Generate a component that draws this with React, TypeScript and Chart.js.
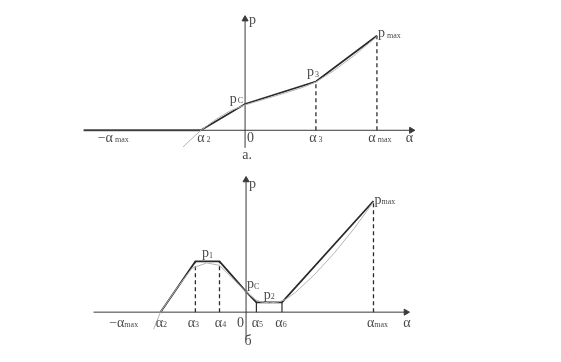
import React, { useEffect, useRef } from "react";
import { Chart, registerables } from "chart.js";

Chart.register(...registerables);

// ---------- Panel "а" (top) ----------
// breakpoints of the piecewise characteristic: α2, 0, α3, αmax
const topAlpha = [-4.5, 0, 7.2, 13.4];
// values p: 0, pC, p3, pmax
const topP = [0, 2.7, 5.0, 9.7];
// dead zone on the negative side (thick flat part)
const topDeadX = [-16.4, -4.5];
// axes extents
const topAxisX = [-16.4, 16.9];
const topAxisY = [-1.8, 11.4];
// thin grey approximating curve
const topApproxX = [-6.3, -4.5, -3, -1.5, 0, 2, 4, 6, 7.2, 9, 11, 13.4];
const topApproxP = [-1.7, 0, 1.1, 2.0, 2.6, 3.2, 3.8, 4.45, 4.95, 6.1, 7.6, 9.6];
// tick labels
const topTickMain = ["−α", "α", "0", "α", "α"];
const topTickSub = ["max", "2", "", "3", "max"];

// ---------- Panel "б" (bottom) ----------
// α2, α3, α4, 0, α5, α6, αmax
const botAlpha = [-8.7, -5.15, -2.7, 0, 1.05, 3.65, 12.95];
// 0, p1, p1, pC, p2, p2, pmax
const botP = [0, 5.2, 5.2, 2.1, 1.0, 1.0, 11.4];
const botAxisX = [-15.5, 16.25];
const botAxisY = [-2.85, 13.55];
const botApproxX = [-9.4, -8.7, -7, -5.5, -4, -2.7, -1.5, 0, 1, 1.5, 2.4, 3.3, 4, 5, 7, 9, 11, 12.95];
const botApproxP = [-1.75, 0, 2.5, 4.5, 5.05, 4.8, 3.6, 2.1, 1.25, 1.05, 0.95, 1.05, 1.3, 2.0, 3.9, 6.1, 8.6, 11.3];
const botTickMain = ["−α", "α", "α", "α", "0", "α", "α", "α"];
const botTickSub = ["max", "2", "3", "4", "", "5", "6", "max"];

// ---------- layout (pixels) ----------
const W = 561;
const H = 362;
const PX = 10; // pixels per unit
const TOP_ORIGIN = { x: 244.5, y: 129 };
const BOT_ORIGIN = { x: 245.5, y: 315.5 };

const INK = "#2a2a2a";
const AXIS = "#3a3a3a";
const GREY = "#b4b4b4";
const TEXT = "#4a4a4a";
const SERIF = "'Liberation Serif', 'DejaVu Serif', serif";

const pts = (xs: number[], ys: number[]) => xs.map((x, i) => ({ x, y: ys[i] }));

type Lbl = {
  panel: "t" | "b";
  x: number;
  y: number;
  main: string;
  sub: string;
  dx: number;
  dy: number;
  align: "center" | "left" | "right";
  size?: number;
  gap?: number;
};

function buildLabels(): Lbl[] {
  const L: Lbl[] = [];
  // top tick labels
  const topTickX = [-topAlpha[3], topAlpha[0], 0, topAlpha[2], topAlpha[3]];
  const topDx = [0, 3, 2, 0, 3];
  topTickX.forEach((x, i) =>
    L.push({ panel: "t", x, y: 0, main: topTickMain[i], sub: topTickSub[i], dx: topDx[i], dy: 8, align: i === 2 ? "left" : "center", gap: 2 })
  );
  L.push({ panel: "t", x: topAxisX[1], y: 0, main: "α", sub: "", dx: -2, dy: 8, align: "center" });
  L.push({ panel: "t", x: 0, y: 0, main: "a.", sub: "", dx: 2, dy: 25, align: "center" });
  L.push({ panel: "t", x: 0, y: topAxisY[1], main: "p", sub: "", dx: 4, dy: 1, align: "left" });
  L.push({ panel: "t", x: topAlpha[1], y: topP[1], main: "p", sub: "C", dx: -2, dy: -5, align: "right", gap: 1 });
  L.push({ panel: "t", x: topAlpha[2], y: topP[2], main: "p", sub: "3", dx: -3, dy: -9, align: "center", gap: 1 });
  L.push({ panel: "t", x: topAlpha[3], y: topP[3], main: "p", sub: "max", dx: 1, dy: -2, align: "left", gap: 2 });

  // bottom tick labels
  const botTickX = [-botAlpha[6], botAlpha[0], botAlpha[1], botAlpha[2], 0, botAlpha[4], botAlpha[5], botAlpha[6]];
  const botDx = [5, 1, -2, 1, -2, 1, -1, 4];
  botTickX.forEach((x, i) =>
    L.push({ panel: "b", x, y: 0, main: botTickMain[i], sub: botTickSub[i], dx: botDx[i], dy: 11, align: i === 4 ? "right" : "center", gap: 0 })
  );
  L.push({ panel: "b", x: botAxisX[1], y: 0, main: "α", sub: "", dx: 1, dy: 11, align: "center" });
  L.push({ panel: "b", x: 0, y: 0, main: "б", sub: "", dx: 2, dy: 29, align: "center" });
  L.push({ panel: "b", x: 0, y: botAxisY[1], main: "p", sub: "", dx: 3, dy: 4, align: "left" });
  L.push({ panel: "b", x: (botAlpha[1] + botAlpha[2]) / 2, y: botP[1], main: "p", sub: "1", dx: 0, dy: -8, align: "center", gap: 0 });
  L.push({ panel: "b", x: botAlpha[3], y: botP[3], main: "p", sub: "C", dx: 1, dy: -7, align: "left", gap: 0 });
  L.push({ panel: "b", x: (botAlpha[4] + botAlpha[5]) / 2, y: botP[4], main: "p", sub: "2", dx: 0, dy: -7, align: "center", gap: 0 });
  L.push({ panel: "b", x: botAlpha[6], y: botP[6], main: "p", sub: "max", dx: 1, dy: -1, align: "left", gap: 0 });
  return L;
}

const labelPlugin = {
  id: "diagramLabels",
  afterDatasetsDraw(chart: any) {
    const ctx: CanvasRenderingContext2D = chart.ctx;
    const labels = buildLabels();
    ctx.save();
    ctx.fillStyle = TEXT;
    ctx.textBaseline = "middle";
    ctx.textAlign = "left";
    for (const l of labels) {
      const xs = chart.scales[l.panel === "t" ? "xt" : "xb"];
      const ys = chart.scales[l.panel === "t" ? "yt" : "yb"];
      const px = xs.getPixelForValue(l.x);
      const py = ys.getPixelForValue(l.y);
      const size = l.size ?? 14;
      const mainFont = `${size}px ${SERIF}`;
      const subFont = `${Math.round(size * 0.6)}px ${SERIF}`;
      ctx.font = mainFont;
      const mw = ctx.measureText(l.main).width;
      ctx.font = subFont;
      const gap = l.sub ? l.gap ?? 0 : 0;
      const sw = l.sub ? ctx.measureText(l.sub).width : 0;
      const total = mw + gap + sw;
      let x0 = px + l.dx;
      if (l.align === "center") x0 -= total / 2;
      else if (l.align === "right") x0 -= total;
      const y0 = py + l.dy;
      ctx.font = mainFont;
      ctx.fillText(l.main, x0, y0);
      if (l.sub) {
        ctx.font = subFont;
        ctx.fillText(l.sub, x0 + mw + gap, y0 + 2);
      }
    }
    ctx.restore();
  },
};

export default function App() {
  const ref = useRef<HTMLCanvasElement | null>(null);

  useEffect(() => {
    if (!ref.current) return;
    const T = { xAxisID: "xt", yAxisID: "yt" };
    const B = { xAxisID: "xb", yAxisID: "yb" };
    const line = (data: any[], color: string, width: number, axes: any, extra: any = {}) => ({
      data,
      borderColor: color,
      backgroundColor: color,
      borderWidth: width,
      showLine: true,
      pointRadius: 0,
      pointHoverRadius: 0,
      tension: 0,
      ...axes,
      ...extra,
    });
    const arrowX = (xs: number[], axes: any) =>
      line(pts(xs, [0, 0]), AXIS, 1, axes, { pointRadius: [0, 3.5], pointStyle: "triangle", rotation: 90 });
    const arrowY = (ys: number[], axes: any) =>
      line(pts([0, 0], ys), AXIS, 1, axes, { pointRadius: [0, 3.5], pointStyle: "triangle", rotation: 0 });
    const dashed = (x: number, y: number, axes: any) =>
      line(pts([x, x], [0, y]), INK, 1.3, axes, { borderDash: [4, 3] });

    const datasets: any[] = [
      // ---- top ----
      line(pts(topApproxX, topApproxP), GREY, 1, T),
      arrowX(topAxisX, T),
      arrowY(topAxisY, T),
      line(pts(topDeadX, [0, 0]), "#505050", 2, T),
      line(pts(topAlpha, topP), INK, 1.7, T),
      dashed(topAlpha[2], topP[2], T),
      dashed(topAlpha[3], topP[3], T),
      // ---- bottom ----
      line(pts(botApproxX, botApproxP), GREY, 1, B),
      arrowX(botAxisX, B),
      arrowY(botAxisY, B),
      line(pts(botAlpha, botP), INK, 1.8, B),
      dashed(botAlpha[1], botP[1], B),
      dashed(botAlpha[2], botP[2], B),
      dashed(botAlpha[6], botP[6], B),
      line(pts([botAlpha[4], botAlpha[4]], [0, botP[4]]), INK, 1.2, B),
      line(pts([botAlpha[5], botAlpha[5]], [0, botP[5]]), INK, 1.2, B),
    ];

    const hidden = (min: number, max: number, axis: "x" | "y") => ({
      type: "linear" as const,
      axis,
      display: false,
      min,
      max,
    });

    const chart = new Chart(ref.current, {
      type: "scatter",
      data: { datasets },
      options: {
        animation: false,
        responsive: false,
        maintainAspectRatio: false,
        events: [],
        layout: { padding: 0 },
        plugins: { legend: { display: false }, tooltip: { enabled: false } },
        scales: {
          xt: hidden(-TOP_ORIGIN.x / PX, (W - TOP_ORIGIN.x) / PX, "x"),
          yt: hidden((TOP_ORIGIN.y - H) / PX, TOP_ORIGIN.y / PX, "y"),
          xb: hidden(-BOT_ORIGIN.x / PX, (W - BOT_ORIGIN.x) / PX, "x"),
          yb: hidden((BOT_ORIGIN.y - H) / PX, BOT_ORIGIN.y / PX, "y"),
        },
      },
      plugins: [labelPlugin],
    });
    return () => chart.destroy();
  }, []);

  return (
    <div style={{ position: "absolute", left: 0, top: 0, width: W, height: H, background: "#ffffff" }}>
      <canvas ref={ref} width={W} height={H} style={{ display: "block", width: W, height: H }} />
    </div>
  );
}
